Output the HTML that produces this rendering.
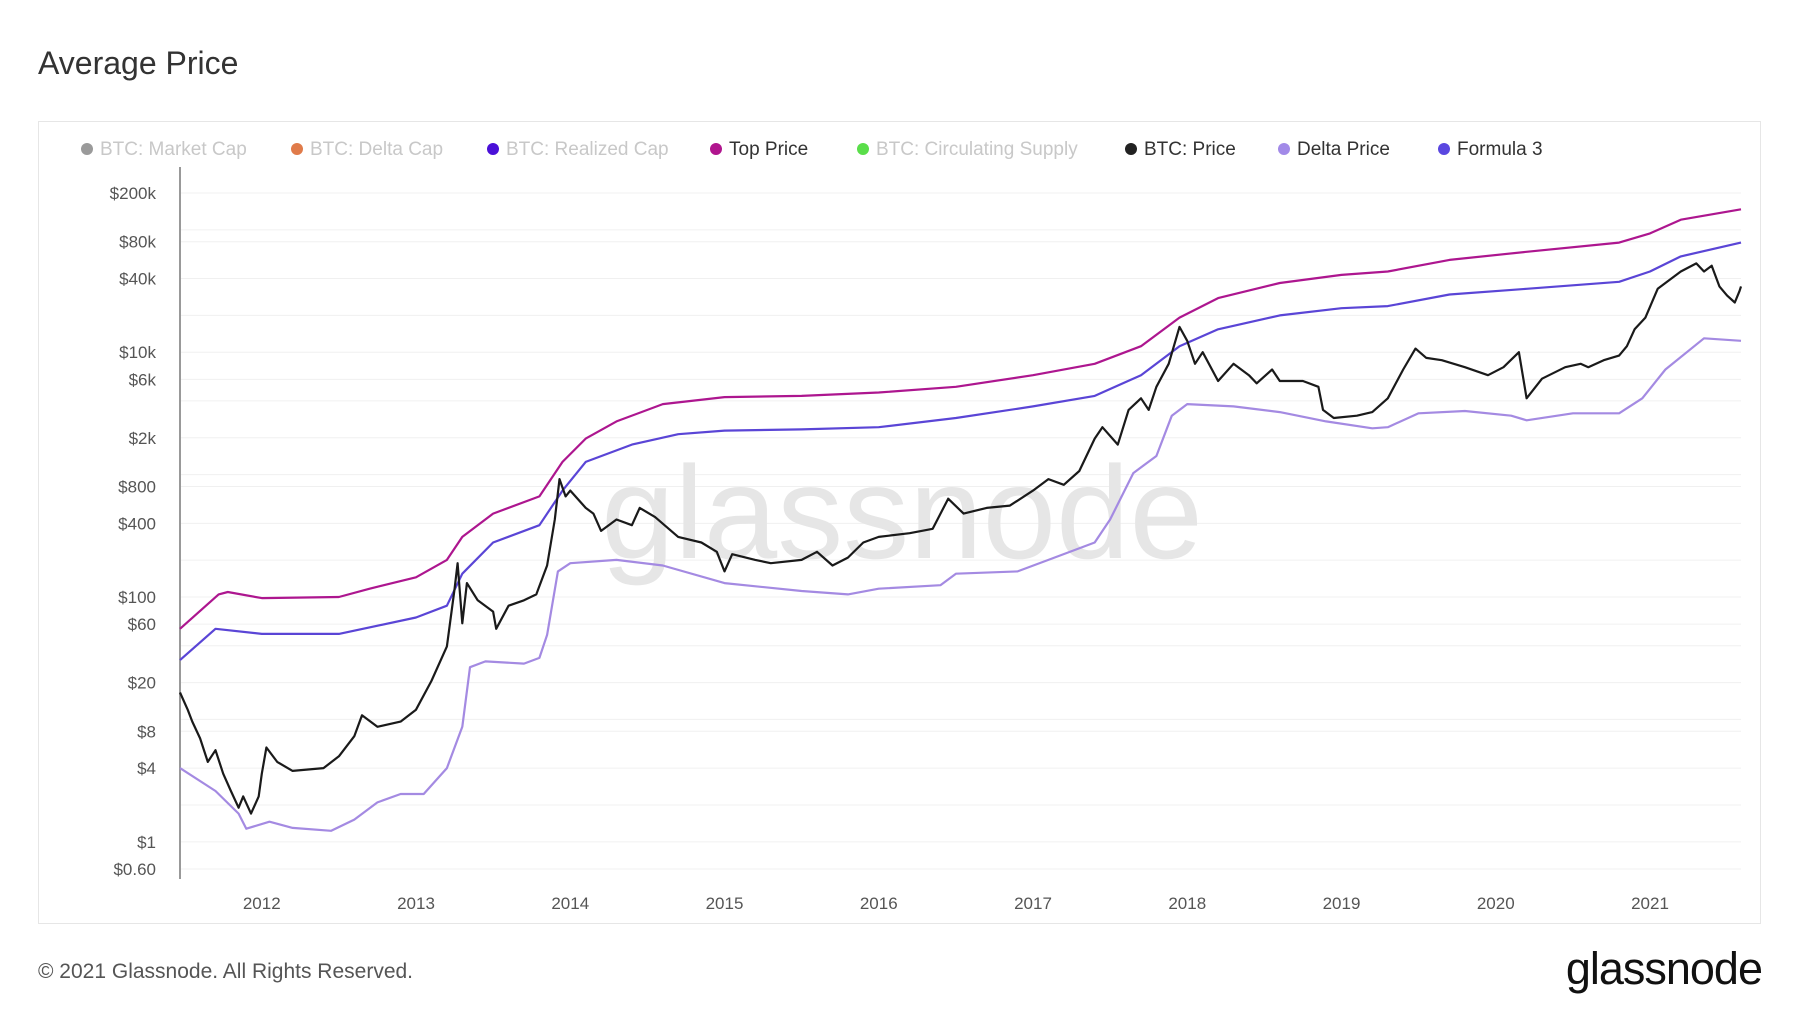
<!DOCTYPE html>
<html><head><meta charset="utf-8"><style>
body{margin:0;background:#fff;font-family:"Liberation Sans",sans-serif;}
#wrap{position:relative;width:1800px;height:1013px;overflow:hidden;}
</style></head><body>
<div id="wrap">
<div style="position:absolute;left:38px;top:45px;font-size:32px;color:#333;">Average Price</div>
<div style="position:absolute;left:38px;top:121px;width:1723px;height:803px;border:1px solid #e6e6e6;box-sizing:border-box;"></div>
<svg id="chart" width="1800" height="1013" style="position:absolute;left:0;top:0;"></svg>
<div style="position:absolute;left:38px;top:960px;font-size:21px;color:#555;">© 2021 Glassnode. All Rights Reserved.</div>
<div style="position:absolute;right:38px;top:943px;font-size:45px;color:#111;letter-spacing:-1px;">glassnode</div>
</div>
<script>
const topPrice=[[2011.47,55],[2011.72,105],[2011.78,110],[2012.0,98],[2012.5,100],[2012.7,117],[2013.0,145],[2013.2,201],[2013.3,310],[2013.5,480],[2013.8,664],[2013.95,1270],[2014.1,1970],[2014.3,2720],[2014.6,3770],[2015.0,4300],[2015.5,4400],[2016.0,4690],[2016.5,5220],[2017.0,6490],[2017.4,8050],[2017.7,11200],[2017.95,19200],[2018.2,27700],[2018.6,36800],[2019.0,42800],[2019.3,45700],[2019.7,56800],[2020.2,66100],[2020.8,78700],[2021.0,93500],[2021.2,121000],[2021.59,147000]];
const formula3=[[2011.47,30.5],[2011.7,55],[2012.0,50],[2012.5,50],[2013.0,68],[2013.2,85],[2013.3,155],[2013.5,279],[2013.8,386],[2013.95,740],[2014.1,1270],[2014.4,1760],[2014.7,2140],[2015.0,2290],[2015.5,2340],[2016.0,2440],[2016.5,2900],[2017.0,3610],[2017.4,4400],[2017.7,6490],[2017.95,11200],[2018.2,15400],[2018.6,20000],[2019.0,22900],[2019.3,23800],[2019.7,29600],[2020.2,33000],[2020.8,37600],[2021.0,45700],[2021.2,60700],[2021.59,78700]];
const deltaPrice=[[2011.47,4.0],[2011.7,2.6],[2011.85,1.7],[2011.9,1.28],[2012.05,1.46],[2012.2,1.3],[2012.45,1.23],[2012.6,1.52],[2012.75,2.1],[2012.9,2.46],[2013.05,2.46],[2013.2,4.0],[2013.3,8.7],[2013.35,26.7],[2013.45,29.8],[2013.7,28.6],[2013.8,31.8],[2013.85,49],[2013.92,162],[2014.0,189],[2014.3,201],[2014.6,181],[2015.0,130],[2015.5,112],[2015.8,105],[2016.0,117],[2016.4,125],[2016.5,155],[2016.9,162],[2017.1,201],[2017.4,279],[2017.5,430],[2017.65,1030],[2017.8,1420],[2017.9,3030],[2018.0,3770],[2018.3,3610],[2018.6,3240],[2018.9,2720],[2019.2,2390],[2019.3,2440],[2019.5,3170],[2019.8,3310],[2020.1,3030],[2020.2,2780],[2020.5,3170],[2020.8,3170],[2020.95,4200],[2021.1,7230],[2021.35,13000],[2021.59,12400]];
const btcPrice=[[2011.47,16.6],[2011.52,12],[2011.55,9.6],[2011.6,7],[2011.65,4.5],[2011.7,5.6],[2011.75,3.6],[2011.8,2.6],[2011.85,1.9],[2011.88,2.35],[2011.93,1.7],[2011.98,2.35],[2012.0,3.6],[2012.03,5.9],[2012.1,4.5],[2012.2,3.8],[2012.4,4.0],[2012.5,5.0],[2012.6,7.3],[2012.65,10.8],[2012.75,8.7],[2012.9,9.6],[2013.0,12],[2013.1,20.6],[2013.2,39.5],[2013.25,117],[2013.27,189],[2013.3,61],[2013.33,130],[2013.4,94],[2013.5,76],[2013.52,55],[2013.6,85],[2013.7,94],[2013.78,105],[2013.85,181],[2013.9,430],[2013.93,920],[2013.97,664],[2014.0,740],[2014.1,535],[2014.15,480],[2014.2,347],[2014.3,430],[2014.4,386],[2014.45,535],[2014.55,450],[2014.7,310],[2014.85,279],[2014.95,234],[2015.0,162],[2015.05,224],[2015.2,201],[2015.3,189],[2015.5,201],[2015.6,234],[2015.7,181],[2015.8,210],[2015.9,279],[2016.0,310],[2016.2,332],[2016.35,361],[2016.45,636],[2016.55,480],[2016.7,535],[2016.85,558],[2017.0,740],[2017.1,920],[2017.2,826],[2017.3,1070],[2017.4,1970],[2017.45,2440],[2017.55,1760],[2017.62,3380],[2017.7,4200],[2017.75,3380],[2017.8,5220],[2017.88,8050],[2017.95,16100],[2018.0,12400],[2018.05,8050],[2018.1,10000],[2018.2,5820],[2018.3,8050],[2018.4,6490],[2018.45,5570],[2018.55,7230],[2018.6,5820],[2018.75,5820],[2018.85,5220],[2018.88,3380],[2018.95,2900],[2019.1,3030],[2019.2,3240],[2019.3,4200],[2019.4,7230],[2019.48,10700],[2019.55,8980],[2019.65,8600],[2019.8,7550],[2019.95,6490],[2020.05,7550],[2020.15,10000],[2020.2,4200],[2020.3,6080],[2020.45,7550],[2020.55,8050],[2020.6,7550],[2020.7,8600],[2020.8,9380],[2020.85,11200],[2020.9,15400],[2020.97,19200],[2021.05,33000],[2021.1,36800],[2021.2,45700],[2021.3,53200],[2021.35,45700],[2021.4,50900],[2021.45,34500],[2021.5,29000],[2021.55,25500],[2021.58,31600],[2021.59,34500]];
const yTickValues=[200000,80000,40000,10000,6000,2000,800,400,100,60,20,8,4,1,0.6];
const yTickLabels=["$200k","$80k","$40k","$10k","$6k","$2k","$800","$400","$100","$60","$20","$8","$4","$1","$0.60"];
const gridValues=[200000,100000,80000,40000,20000,10000,6000,4000,2000,1000,800,400,200,100,60,40,20,10,8,4,2,1,0.6];
const xTickYears=[2012,2013,2014,2015,2016,2017,2018,2019,2020,2021];
const legendLabels=["BTC: Market Cap","BTC: Delta Cap","BTC: Realized Cap","Top Price","BTC: Circulating Supply","BTC: Price","Delta Price","Formula 3"];
const legendColors=["#9a9a9a","#e07b4a","#4a10d8","#b0158e","#5ade4a","#222222","#a28ae8","#5a47e0"];
const legendActive=[false,false,false,true,false,true,true,true];

const NS="http://www.w3.org/2000/svg";
const svg=document.getElementById('chart');
const X0=180,X1=1741,T0=2011.47,T1=2021.59;
function xs(t){return X0+(t-T0)/(T1-T0)*(X1-X0);}
function ys(v){return 869-(Math.log10(v)+0.222)*122.4;}
function mk(tag,attrs){const e=document.createElementNS(NS,tag);for(const k in attrs)e.setAttribute(k,attrs[k]);svg.appendChild(e);return e;}

gridValues.forEach(v=>{
  const l=mk('line',{x1:X0,x2:X1,y1:ys(v),y2:ys(v),stroke:'#f0f0f0','stroke-width':1});
  
  
});
yTickValues.forEach((v,i)=>{
  const t=mk('text',{x:156,y:ys(v)+6,'text-anchor':'end','font-size':17,fill:'#555','font-family':'Liberation Sans, sans-serif'});
  t.textContent=yTickLabels[i];
  
  
});
xTickYears.forEach(y=>{
  const t=mk('text',{x:xs(y),y:909,'text-anchor':'middle','font-size':17,fill:'#555','font-family':'Liberation Sans, sans-serif'});
  t.textContent=String(y);
  
  
});
const wm=mk('text',{x:902,y:558,'text-anchor':'middle','font-size':132,fill:'#e6e6e6','font-family':'Liberation Sans, sans-serif'});
wm.textContent='glassnode';


const ax=mk('line',{x1:X0,x2:X0,y1:167,y2:879,stroke:'#999','stroke-width':2});



function path(data){return data.map((p,i)=>(i?'L':'M')+xs(p[0]).toFixed(1)+' '+ys(p[1]).toFixed(1)).join(' ');}
const s1=mk('path',{d:path(deltaPrice),fill:'none',stroke:'#a48ae2','stroke-width':2.2,'stroke-linejoin':'round'});


const s2=mk('path',{d:path(formula3),fill:'none',stroke:'#5a45d6','stroke-width':2.2,'stroke-linejoin':'round'});


const s3=mk('path',{d:path(topPrice),fill:'none',stroke:'#ad168f','stroke-width':2.2,'stroke-linejoin':'round'});


const s4=mk('path',{d:path(btcPrice),fill:'none',stroke:'#1a1a1a','stroke-width':2.2,'stroke-linejoin':'round'});



const legendX=[87,297,493,716,863,1131,1284,1444];
legendLabels.forEach((lab,i)=>{
  const c=mk('circle',{cx:legendX[i],cy:149,r:6,fill:legendColors[i]});
  
  
  const t=mk('text',{x:legendX[i]+13,y:155,'font-size':19,fill:legendActive[i]?'#333':'#c8c8c8','font-family':'Liberation Sans, sans-serif'});
  t.textContent=lab;
  
  
});
</script>
</body></html>
